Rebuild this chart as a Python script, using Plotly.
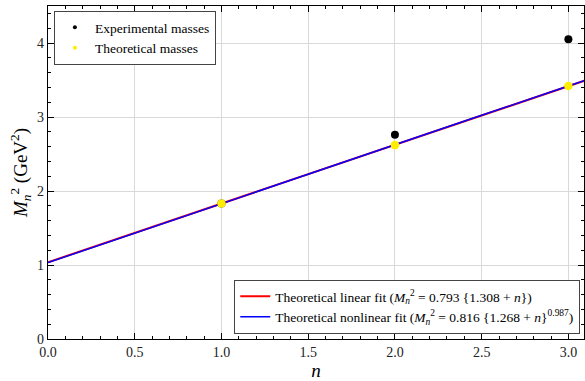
import plotly.graph_objects as go

# Data
exp_n = [1, 2, 3]
exp_M2 = [1.83, 2.76, 4.05]
theo_n = [1, 2, 3]
theo_M2 = [1.83, 2.62, 3.42]

lin_n = [0.0, 3.1]
lin_M2 = [1.037, 3.496]
nonlin_n = [0.0, 0.5, 1.0, 1.5, 2.0, 2.5, 3.0, 3.1]
nonlin_M2 = [1.032, 1.432, 1.831, 2.229, 2.626, 3.023, 3.418, 3.497]

x_ticks = [0.0, 0.5, 1.0, 1.5, 2.0, 2.5, 3.0]
y_ticks = [0, 1, 2, 3, 4]

FONT = "Liberation Serif, Times New Roman, serif"
YELLOW = "#ffee00"

fig = go.Figure()
fig.add_trace(go.Scatter(x=lin_n, y=lin_M2, mode="lines",
                         line=dict(color="red", width=2),
                         name="Theoretical linear fit (<i>M</i><sub><i>n</i></sub><sup>2</sup> = 0.793 {1.308 + <i>n</i>})",
                         legend="legend2"))
fig.add_trace(go.Scatter(x=nonlin_n, y=nonlin_M2, mode="lines",
                         line=dict(color="blue", width=1.5),
                         name="Theoretical nonlinear fit (<i>M</i><sub><i>n</i></sub><sup>2</sup> = 0.816 {1.268 + <i>n</i>}<sup>0.987</sup>)",
                         legend="legend2"))
fig.add_trace(go.Scatter(x=exp_n, y=exp_M2, mode="markers",
                         marker=dict(color="black", size=8),
                         showlegend=False))
fig.add_trace(go.Scatter(x=theo_n, y=theo_M2, mode="markers",
                         marker=dict(color=YELLOW, size=8.5),
                         showlegend=False))
# legend entries with small dots, like the reference
fig.add_trace(go.Scatter(x=[None], y=[None], mode="markers",
                         marker=dict(color="black", size=4),
                         name="Experimental masses", legend="legend"))
fig.add_trace(go.Scatter(x=[None], y=[None], mode="markers",
                         marker=dict(color=YELLOW, size=4),
                         name="Theoretical masses", legend="legend"))

axis_common = dict(
    showline=True, linecolor="black", linewidth=1.2, mirror="ticks",
    ticks="inside", ticklen=6, tickcolor="black",
    showgrid=True, gridcolor="#d9d9d9", gridwidth=1,
    zeroline=False,
    tickfont=dict(family=FONT, size=14, color="#222"),
    minor=dict(ticks="inside", ticklen=3, tickcolor="black", showgrid=False),
)

fig.update_xaxes(range=[0, 3.09], tickvals=x_ticks,
                 ticktext=[f"{v:.1f}" for v in x_ticks],
                 minor_dtick=0.1,
                 title=dict(text="<i>n</i>", font=dict(family=FONT, size=19), standoff=6),
                 **axis_common)
fig.update_yaxes(range=[0, 4.5], tickvals=y_ticks,
                 ticktext=[str(v) for v in y_ticks],
                 minor_dtick=0.2,
                 title=dict(text="<i>M</i><sub><i>n</i></sub><sup>2</sup> (GeV<sup>2</sup>)",
                            font=dict(family=FONT, size=19), standoff=4),
                 **axis_common)

fig.update_layout(
    width=585, height=381,
    margin=dict(l=48, r=1, t=6, b=42),
    plot_bgcolor="white", paper_bgcolor="white",
    font=dict(family=FONT, color="black"),
    legend=dict(x=0.011, y=0.985, xanchor="left", yanchor="top",
                bgcolor="white", bordercolor="#444", borderwidth=1,
                font=dict(family=FONT, size=13.5, color="black"), itemwidth=30),
    legend2=dict(x=0.993, y=0.015, xanchor="right", yanchor="bottom",
                 bgcolor="white", bordercolor="#444", borderwidth=1,
                 font=dict(family=FONT, size=13.5, color="black"), itemwidth=30),
)

fig.write_html("out.html")
